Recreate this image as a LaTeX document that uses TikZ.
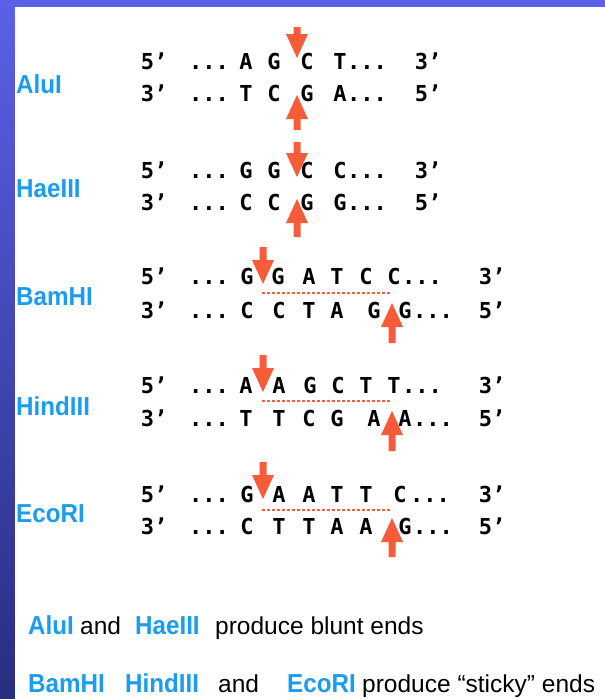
\documentclass[tikz,border=0pt]{standalone}
\usepackage{fontspec}
\setmainfont{Liberation Sans}
\newfontfamily\seqfont{DejaVu Sans Mono}
\newfontfamily\lblfont[FakeStretch=0.93]{Liberation Sans}
\definecolor{bgtop}{RGB}{92,96,232}
\definecolor{bgbot}{RGB}{40,46,128}
\definecolor{cutred}{RGB}{246,92,58}
\definecolor{enzblue}{RGB}{26,156,240}
\tikzset{
  seq/.style={inner sep=0pt, anchor=base, font=\seqfont\bfseries\fontsize{22}{22}\selectfont, text=black},
  side/.style={inner sep=0pt, anchor=west, font=\lblfont\bfseries\fontsize{26}{26}\selectfont, text=enzblue},
  enz/.style={inner sep=0pt, anchor=base west, font=\lblfont\bfseries\fontsize{26}{26}\selectfont, text=enzblue},
  plain/.style={inner sep=0pt, anchor=base west, font=\fontsize{24.5}{24.5}\selectfont, text=black},
  cut/.style={fill=cutred},
  overhang/.style={draw=cutred, line width=2.6pt, dash pattern=on 2.6pt off 2.4pt}
}
\newcommand\dnarr[3]{\fill[cut] (#1-3.5,#2) -- (#1+3.5,#2) -- (#1+3.5,#3-24) -- (#1+11,#3-24) -- (#1,#3) -- (#1-11,#3-24) -- (#1-3.5,#3-24) -- cycle;}
\newcommand\uparr[3]{\fill[cut] (#1-3.5,#2) -- (#1+3.5,#2) -- (#1+3.5,#3+24) -- (#1+11,#3+24) -- (#1,#3) -- (#1-11,#3+24) -- (#1-3.5,#3+24) -- cycle;}
% row: name, centre y, left end, right end, dots x, end x, list of x/char
\newcommand\seqrow[7]{%
  \node[seq] (#1-l) at (154,#2+8) {#3};
  \node[seq] (#1-d1) at (209,#2+8) {...};
  \foreach \xx/\cc [count=\ii] in {#7} {\node[seq] (#1-c\ii) at (\xx,#2+8) {\cc};}
  \node[seq] (#1-d2) at (#5,#2+8) {...};
  \node[seq] (#1-r) at (#6,#2+8) {#4};
}
\begin{document}
\begin{tikzpicture}[x=1pt,y=-1pt]
\useasboundingbox (0,0) rectangle (605,699);
\shade[top color=bgtop, bottom color=bgbot] (0,0) rectangle (605,699);
\fill[white] (15,7) rectangle (605,699);

% AluI
\node[side] (aluI) at (16,84) {AluI};
\seqrow{a1}{61}{5’}{3’}{367}{428}{246/A,274/G,307/C,340/T}
\seqrow{a2}{93}{3’}{5’}{367}{428}{246/T,274/C,307/G,340/A}
\dnarr{297}{27}{58}
\uparr{297}{130}{95}

% HaeIII
\node[side] (haeIII) at (16,189) {HaeIII};
\seqrow{h1}{170}{5’}{3’}{367}{428}{246/G,274/G,307/C,340/C}
\seqrow{h2}{202}{3’}{5’}{367}{428}{246/C,274/C,307/G,340/G}
\dnarr{297}{142}{177}
\uparr{297}{237}{199}

% BamHI
\node[side] (bamHI) at (16,297) {BamHI};
\seqrow{b1}{276}{5’}{3’}{422}{492}{247/G,278/G,309/A,337/T,366/C,394/C}
\seqrow{b2}{310}{3’}{5’}{433}{492}{247/C,279/C,309/T,337/A,374/G,405/G}
\draw[overhang] (262,293) -- (392,293);
\dnarr{263}{247}{284}
\uparr{392}{343}{303}

% HindIII
\node[side] (hindIII) at (16,406) {HindIII};
\seqrow{d1}{385}{5’}{3’}{422}{492}{246/A,279/A,310/G,338/C,366/T,394/T}
\seqrow{d2}{418}{3’}{5’}{433}{492}{246/T,279/T,309/C,337/G,374/A,405/A}
\draw[overhang] (262,401) -- (392,401);
\dnarr{263}{355}{392}
\uparr{392}{451}{411}

% EcoRI
\node[side] (ecoRI) at (16,514) {EcoRI};
\seqrow{e1}{494}{5’}{3’}{430}{492}{247/G,279/A,309/A,337/T,366/T,400/C}
\seqrow{e2}{526}{3’}{5’}{433}{492}{247/C,279/T,309/T,337/A,366/A,405/G}
\draw[overhang] (262,510) -- (392,510);
\dnarr{263}{462}{499}
\uparr{392}{557}{518}

% summary
\node[enz] (s1a) at (28,634) {AluI};
\node[plain] (s1b) at (80,634) {and};
\node[enz] (s1c) at (135,634) {HaeIII};
\node[plain] (s1d) at (215,634) {produce blunt ends};
\node[enz] (s2a) at (28,692) {BamHI};
\node[enz] (s2b) at (125,692) {HindIII};
\node[plain] (s2c) at (218,692) {and};
\node[enz] (s2d) at (287,692) {EcoRI};
\node[plain] (s2e) at (362,692) {produce “sticky” ends};
\end{tikzpicture}
\end{document}
